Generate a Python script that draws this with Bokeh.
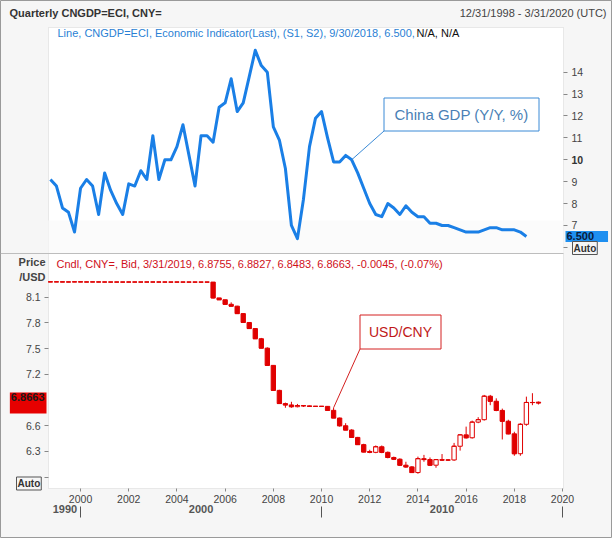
from bokeh.plotting import figure
from bokeh.models import (Range1d, LinearAxis, FixedTicker, Label,
                          BoxAnnotation, ColumnDataSource)
from bokeh.embed import file_html
from bokeh.resources import INLINE

# ---------------- data ----------------
gdp_start = "1998Q4"
gdp_values = [9.1,
              8.8, 7.8, 7.6, 6.7,
              8.7, 9.1, 8.8, 7.5,
              9.4, 8.6, 8.0, 7.5,
              8.9, 8.8, 9.5, 9.1,
              11.1, 9.1, 10.0, 10.0,
              10.6, 11.6, 10.2, 8.8,
              11.1, 11.1, 10.8, 12.4,
              12.6, 13.7, 12.2, 12.6,
              13.8, 15.0, 14.3, 14.0,
              11.5, 10.9, 9.6, 7.0,
              6.4, 8.2, 10.6, 11.9,
              12.2, 11.0, 9.9, 9.9,
              10.2, 10.0, 9.4, 8.7,
              8.0, 7.5, 7.4, 8.0,
              7.8, 7.5, 7.9, 7.6,
              7.4, 7.4, 7.1, 7.1,
              7.0, 7.0, 6.9, 6.8,
              6.7, 6.7, 6.7, 6.8,
              6.9, 6.9, 6.8, 6.8,
              6.8, 6.7, 6.5]

fx_start = "1998Q4"
fx_open = [8.2790, 8.2789, 8.2792, 8.2776, 8.2780, 8.2793, 8.2781, 8.2775, 8.2785,
           8.2774, 8.2771, 8.2770, 8.2770, 8.2768, 8.2774, 8.2770, 8.2771, 8.2773,
           8.2773, 8.2771, 8.2769, 8.2767, 8.2770, 8.2766, 8.2766, 8.2765, 8.2765,
           8.2765, 8.0920, 8.0702, 8.0172, 7.9956, 7.9087, 7.8051, 7.7342, 7.6155,
           7.5058, 7.3046, 7.0130, 6.8591, 6.8430, 6.8225, 6.8359, 6.8319, 6.8262,
           6.8270, 6.8263, 6.7800, 6.6905, 6.6000, 6.5500, 6.4640, 6.3800, 6.3000,
           6.2900, 6.3550, 6.2900, 6.2300, 6.2100, 6.1400, 6.1200, 6.0540, 6.2160,
           6.2055, 6.1400, 6.2050, 6.1990, 6.2010, 6.3610, 6.4940, 6.4600, 6.6425,
           6.6710, 6.9450, 6.8860, 6.7790, 6.6530, 6.5060, 6.2740, 6.6170, 6.8720,
           6.8755]
fx_high = [8.2790, 8.2795, 8.2800, 8.2785, 8.2785, 8.2800, 8.2790, 8.2785, 8.2790,
           8.2780, 8.2780, 8.2775, 8.2775, 8.2775, 8.2780, 8.2775, 8.2775, 8.2780,
           8.2780, 8.2775, 8.2775, 8.2775, 8.2775, 8.2770, 8.2770, 8.2770, 8.2770,
           8.2765, 8.0920, 8.0702, 8.0400, 8.0000, 7.9100, 7.8100, 7.7350, 7.6250,
           7.5150, 7.3050, 7.0200, 6.8700, 6.8800, 6.8550, 6.8400, 6.8350, 6.8300,
           6.8300, 6.8300, 6.8100, 6.6950, 6.6300, 6.5600, 6.4700, 6.3900, 6.3200,
           6.3700, 6.3700, 6.3000, 6.2400, 6.2200, 6.1800, 6.1300, 6.2400, 6.2600,
           6.2300, 6.2100, 6.2700, 6.2100, 6.4000, 6.5000, 6.5900, 6.6600, 6.7000,
           6.9600, 6.9600, 6.9200, 6.8000, 6.6700, 6.5300, 6.6300, 6.9400, 6.9800,
           6.8827]
fx_low = [8.2780, 8.2780, 8.2780, 8.2770, 8.2770, 8.2780, 8.2770, 8.2770, 8.2770,
          8.2765, 8.2765, 8.2765, 8.2765, 8.2765, 8.2765, 8.2765, 8.2765, 8.2765,
          8.2765, 8.2765, 8.2765, 8.2765, 8.2765, 8.2765, 8.2765, 8.2765, 8.2765,
          8.0850, 8.0702, 8.0172, 7.9950, 7.9087, 7.8051, 7.7342, 7.6155, 7.5058,
          7.3046, 7.0130, 6.8591, 6.8100, 6.8100, 6.8150, 6.8200, 6.8240, 6.8230,
          6.8240, 6.7800, 6.6905, 6.5900, 6.5500, 6.4640, 6.3800, 6.2900, 6.2800,
          6.2800, 6.2800, 6.2200, 6.2000, 6.1300, 6.1100, 6.0500, 6.0400, 6.1800,
          6.1300, 6.1100, 6.1900, 6.1900, 6.1900, 6.3100, 6.4500, 6.4500, 6.6300,
          6.6600, 6.8400, 6.7700, 6.4400, 6.5000, 6.2500, 6.2500, 6.6000, 6.8400,
          6.8483]
fx_close = [8.2789, 8.2792, 8.2776, 8.2780, 8.2793, 8.2781, 8.2775, 8.2785, 8.2774,
            8.2771, 8.2770, 8.2770, 8.2768, 8.2774, 8.2770, 8.2771, 8.2773, 8.2773,
            8.2771, 8.2769, 8.2767, 8.2770, 8.2766, 8.2766, 8.2765, 8.2765, 8.2765,
            8.0920, 8.0702, 8.0172, 7.9956, 7.9087, 7.8051, 7.7342, 7.6155, 7.5058,
            7.3046, 7.0130, 6.8591, 6.8430, 6.8225, 6.8359, 6.8319, 6.8262, 6.8270,
            6.8263, 6.7800, 6.6905, 6.6000, 6.5500, 6.4640, 6.3800, 6.2940, 6.2900,
            6.3550, 6.2900, 6.2300, 6.2100, 6.1400, 6.1200, 6.0540, 6.2160, 6.2055,
            6.1400, 6.2050, 6.1990, 6.2010, 6.3610, 6.4940, 6.4600, 6.6425, 6.6710,
            6.9450, 6.8860, 6.7790, 6.6530, 6.5060, 6.2740, 6.6170, 6.8720, 6.8708,
            6.8663]

x_year_ticks = list(range(2000, 2021, 2))
decade_label_ticks = {1999.35: "1990", 2005: "2000", 2015: "2010"}
decade_bounds = [2000, 2010, 2020]
price_ticks = [6.0, 6.3, 6.6, 7.2, 7.5, 7.8, 8.1]
gdp_ticks = [6, 7, 8, 9, 10, 11, 12, 13, 14]


def q_to_x(q):
    return int(q[:4]) + (int(q[5]) - 1) / 4.0


def quarters(start, n):
    y, k = int(start[:4]), int(start[5])
    out = []
    for _ in range(n):
        out.append(f"{y}Q{k}")
        k += 1
        if k == 5:
            k, y = 1, y + 1
    return out


gdp_q = quarters(gdp_start, len(gdp_values))
fx_q = quarters(fx_start, len(fx_close))

# ---------------- layout (reference pixel geometry) ----------------
CL, CR, CT, CB = 0, 612, 0, 538
FL, FR, FT, FB, SPLIT = 48, 563, 27, 488, 253
X0, X1 = 1998.67, 2020.04
PRICE_LO, PRICE_HI = 5.868, 8.61
GDP_LO, GDP_HI = 5.72, 16.04


def fx(px):
    return X0 + (px - FL) * (X1 - X0) / (FR - FL)


def fyp(py):
    return PRICE_LO + (FB - py) * (PRICE_HI - PRICE_LO) / (FB - SPLIT)


def fyg(py):
    return GDP_LO + (SPLIT - py) * (GDP_HI - GDP_LO) / (SPLIT - FT)


FONT = "Liberation Sans"
BLUE = "#1a7fe6"
RED = "#e00000"
BG = "#f6f6f6"
GRID = "#bdbdbd"

p = figure(width=CR - CL, height=CB - CT, output_backend="svg", toolbar_location=None,
           x_range=Range1d(fx(CL), fx(CR)), y_range=Range1d(fyp(CB), fyp(CT)),
           min_border=0, background_fill_color=BG, border_fill_color=BG,
           outline_line_color="#9a9a9a")
p.title.visible = False
p.extra_y_ranges = {"gdp": Range1d(fyg(CB), fyg(CT))}
p.grid.visible = False

# plot box, faint band, separator
p.add_layout(BoxAnnotation(left=fx(FL), right=fx(FR), bottom=fyp(FB), top=fyp(FT),
                           fill_color="white", fill_alpha=1, line_color=GRID,
                           line_width=1, level="underlay"))
p.add_layout(BoxAnnotation(left=fx(FL), right=fx(FR), bottom=fyp(SPLIT), top=fyp(220),
                           fill_color="#fbfbfb", fill_alpha=1, line_color=None,
                           level="underlay"))
p.segment(x0=fx(CL), y0=fyp(SPLIT), x1=fx(FR), y1=fyp(SPLIT), line_color=GRID,
          line_width=1)

# x axis (years)
xa = p.xaxis[0]
xa.fixed_location = fyp(FB)
xa.ticker = FixedTicker(ticks=x_year_ticks)
xa.axis_line_color = None
xa.major_tick_out = 3
xa.major_tick_in = 0
xa.major_tick_line_color = "#888888"
xa.minor_tick_line_color = None
xa.major_label_standoff = 3
xa.major_label_text_font = FONT
xa.major_label_text_font_size = "10.5px"
xa.major_label_text_color = "#444444"

# decade labels axis
da = LinearAxis(fixed_location=fyp(504),
                ticker=FixedTicker(ticks=list(decade_label_ticks.keys())),
                major_label_overrides=decade_label_ticks,
                axis_line_color=None, major_tick_out=0, major_tick_in=0,
                major_tick_line_color=None, minor_tick_line_color=None,
                major_label_standoff=0, major_label_text_font=FONT,
                major_label_text_font_size="11px", major_label_text_font_style="bold",
                major_label_text_color="#555555")
p.add_layout(da, "below")
# decade boundary bars
db = LinearAxis(fixed_location=fyp(505.5),
                ticker=FixedTicker(ticks=decade_bounds),
                major_label_overrides={b: "" for b in decade_bounds},
                axis_line_color=None, major_tick_out=11, major_tick_in=0,
                major_tick_line_color="#555555", minor_tick_line_color=None)
p.add_layout(db, "below")

# left price axis
ya = p.yaxis[0]
ya.fixed_location = fx(FL)
ya.ticker = FixedTicker(ticks=price_ticks)
ya.major_label_overrides = {6.0: ""}
ya.axis_line_color = None
ya.major_tick_out = 4
ya.major_tick_in = 0
ya.major_tick_line_color = "#888888"
ya.minor_tick_line_color = None
ya.major_label_standoff = 4
ya.major_label_text_font = FONT
ya.major_label_text_font_size = "10.5px"
ya.major_label_text_color = "#444444"

# right gdp axis
ra = LinearAxis(y_range_name="gdp", fixed_location=fx(FR),
                ticker=FixedTicker(ticks=gdp_ticks),
                major_label_overrides={6: "", 10: ""},
                axis_line_color=None, major_tick_out=4, major_tick_in=0,
                major_tick_line_color="#888888", minor_tick_line_color=None,
                major_label_standoff=4, major_label_text_font=FONT,
                major_label_text_font_size="10.5px", major_label_text_color="#444444")
p.add_layout(ra, "right")

# ---------------- GDP line ----------------
gsrc = ColumnDataSource(dict(x=[q_to_x(q) for q in gdp_q], y=gdp_values))
p.line("x", "y", source=gsrc, y_range_name="gdp", line_color=BLUE,
       line_width=3, line_join="round")

# ---------------- candles ----------------
cx = [q_to_x(q) for q in fx_q]
W = 0.18
up = [c >= o for o, c in zip(fx_open, fx_close)]
csrc = ColumnDataSource(dict(
    x=cx, x0=[v - W / 2 for v in cx], x1=[v + W / 2 for v in cx],
    o=fx_open, h=fx_high, l=fx_low, c=fx_close,
    top=[max(o, c) for o, c in zip(fx_open, fx_close)],
    bot=[min(o, c) for o, c in zip(fx_open, fx_close)],
    fill=["white" if u else RED for u in up]))
p.segment("x", "l", "x", "h", source=csrc, line_color=RED, line_width=1)
p.vbar(x="x", width=W, top="top", bottom="bot", source=csrc,
       fill_color="fill", line_color=RED, line_width=1)
p.segment("x0", "c", "x1", "c", source=csrc, line_color=RED, line_width=1)

# ---------------- annotation boxes ----------------
p.quad(left=fx(383.5), right=fx(538.5), bottom=fyp(130.5), top=fyp(97.5),
       fill_color="white", line_color="#3a8ad6", line_width=1)
p.add_layout(Label(x=(fx(383.5) + fx(538.5)) / 2, y=fyp(114), text="China GDP (Y/Y, %)",
                   text_align="center", text_baseline="middle", text_font=FONT,
                   text_font_size="15px", text_color="#4a7fb5"))
ig = gdp_q.index("2011Q2")
p.segment(x0=fx(383.5), y0=fyg(130.5), x1=q_to_x(gdp_q[ig]), y1=gdp_values[ig],
          y_range_name="gdp", line_color="#3a8ad6", line_width=1)

p.quad(left=fx(359.5), right=fx(440.5), bottom=fyp(348.5), top=fyp(314.5),
       fill_color="white", line_color="#d42020", line_width=1)
p.add_layout(Label(x=(fx(359.5) + fx(440.5)) / 2, y=fyp(331.5), text="USD/CNY",
                   text_align="center", text_baseline="middle", text_font=FONT,
                   text_font_size="14px", text_color="#c01818"))
ic = fx_q.index("2010Q3")
p.segment(x0=fx(359.5), y0=fyp(348.5), x1=cx[ic], y1=fx_high[ic],
          line_color="#d42020", line_width=1)

# ---------------- legend / header texts ----------------
q_end_map = {1: "3/31", 2: "6/30", 3: "9/30", 4: "12/31"}
last_q = gdp_q[-1]
line_txt = (f"Line, CNGDP=ECI, Economic Indicator(Last), (S1, S2), "
            f"{q_end_map[int(last_q[5])]}/{last_q[:4]}, {gdp_values[-1]:.3f},")
p.add_layout(Label(x=fx(57), y=fyp(32), text=line_txt, text_font=FONT,
                   text_font_size="11px", text_color="#2a7fd4",
                   text_baseline="middle"))
p.add_layout(Label(x=fx(416), y=fyp(32), text="N/A, N/A", text_font=FONT,
                   text_font_size="11px", text_color="#111111",
                   text_baseline="middle"))

lq = fx_q[-1]
chg = fx_close[-1] - fx_close[-2]
pct = chg / fx_close[-2] * 100
cndl_txt = (f"Cndl, CNY=, Bid, {q_end_map[int(lq[5])]}/{lq[:4]}, {fx_open[-1]:.4f}, "
            f"{fx_high[-1]:.4f}, {fx_low[-1]:.4f}, {fx_close[-1]:.4f}, {chg:.4f}, "
            f"({pct:.2f}%)")
p.add_layout(Label(x=fx(56), y=fyp(263.5), text=cndl_txt, text_font=FONT,
                   text_font_size="11px", text_color="#d0101a",
                   text_baseline="middle"))

p.add_layout(Label(x=fx(9), y=fyp(12.5), text="Quarterly CNGDP=ECI, CNY=",
                   text_font=FONT, text_font_size="11px", text_font_style="bold",
                   text_color="#333333", text_baseline="middle"))
p.add_layout(Label(x=fx(606), y=fyp(12.5), text="12/31/1998 - 3/31/2020 (UTC)",
                   text_font=FONT, text_font_size="11px", text_color="#444444",
                   text_align="right", text_baseline="middle"))

# axis extras
p.add_layout(Label(x=fx(45), y=fyp(261.5), text="Price", text_font=FONT,
                   text_font_size="11px", text_font_style="bold", text_color="#444444",
                   text_align="right", text_baseline="middle"))
p.add_layout(Label(x=fx(45), y=fyp(276.5), text="/USD", text_font=FONT,
                   text_font_size="11px", text_font_style="bold", text_color="#444444",
                   text_align="right", text_baseline="middle"))
p.add_layout(Label(x=fx(571), y=10, y_range_name="gdp", text="10", text_font=FONT,
                   text_font_size="10.5px", text_font_style="bold", text_color="#333333",
                   text_baseline="middle"))
p.add_layout(Label(x=fx(565), y=gdp_values[-1], y_range_name="gdp",
                   text=f"{gdp_values[-1]:.3f}", text_font=FONT, text_font_size="11px",
                   text_font_style="bold", text_color="#0a1a3a", text_baseline="middle",
                   background_fill_color="#1e8ff0", padding=(1, 14, 1, 2)))
p.add_layout(Label(x=fx(46), y=fx_close[-1],
                   text=f"{fx_close[-1]:.4f}", text_font=FONT, text_font_size="11px",
                   text_font_style="bold", text_color="#1a1a1a", text_align="right",
                   text_baseline="middle", background_fill_color="#e60000",
                   padding=(1, 2, 1, 12)))
p.add_layout(Label(x=fx(572), y=fyp(247.5), text="Auto", text_font=FONT,
                   text_font_size="10px", text_font_style="bold", text_color="#333333",
                   text_baseline="middle", border_line_color="#555555",
                   background_fill_color=BG, padding=1))
p.add_layout(Label(x=fx(16), y=fyp(483), text="Auto", text_font=FONT,
                   text_font_size="10px", text_font_style="bold", text_color="#333333",
                   text_baseline="middle", border_line_color="#555555",
                   background_fill_color=BG, padding=1))

open("out.html", "w").write(file_html(p, INLINE))
